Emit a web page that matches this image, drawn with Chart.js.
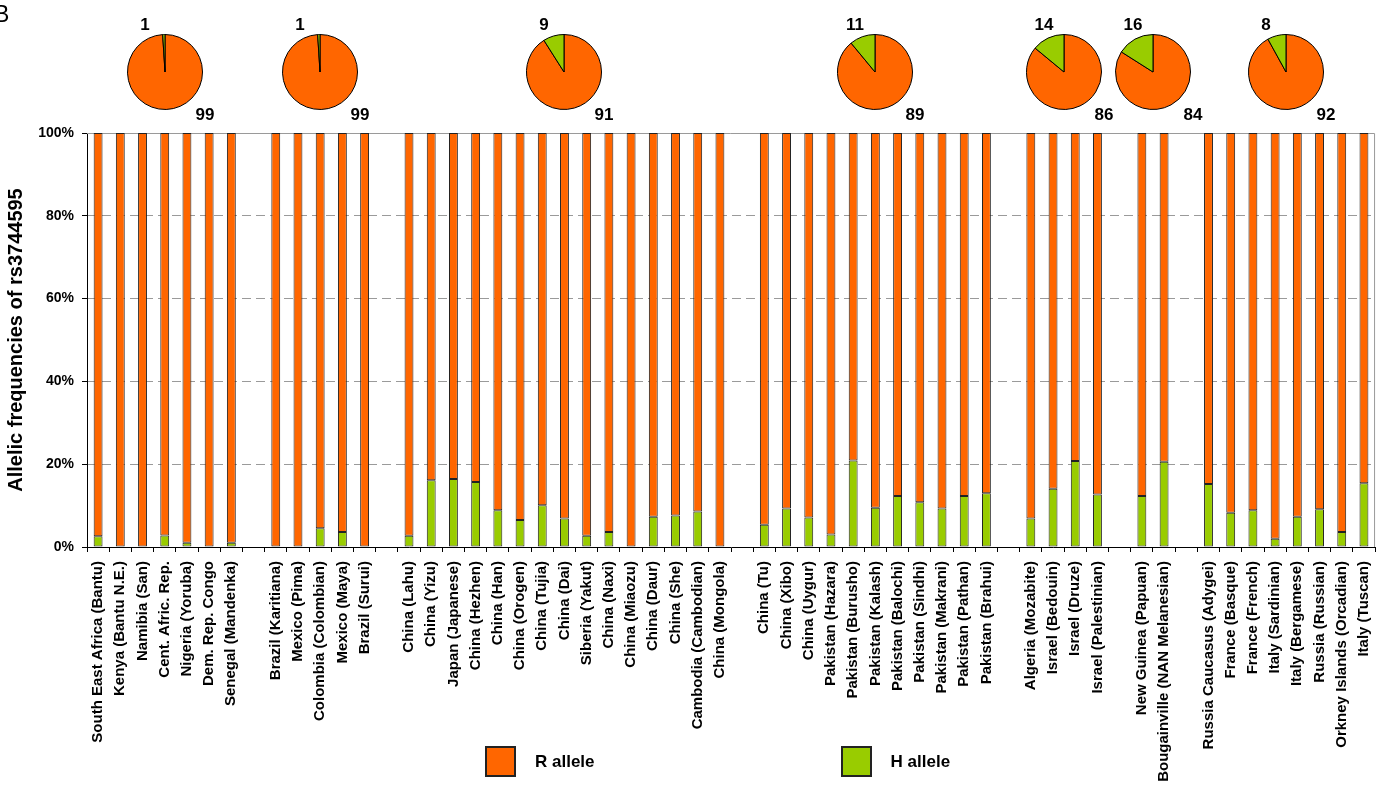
<!DOCTYPE html>
<html>
<head>
<meta charset="utf-8">
<script src="https://cdn.jsdelivr.net/npm/chart.js@4.4.1/dist/chart.umd.min.js"></script>
<style>
  html, body { margin: 0; padding: 0; background: #fff; }
  #wrap { position: relative; width: 1391px; height: 785px; overflow: hidden;
          font-family: "Liberation Sans", Arial, sans-serif; color: #000; }
  #main { position: absolute; left: 0; top: 0; }
  .pie { position: absolute; }
  #panel { position: absolute; left: -6px; top: 1px; font-size: 23px; }
  #legend { position: absolute; left: 485px; top: 746px; display: flex; align-items: center;
            font-weight: bold; font-size: 17px; }
  .item { display: flex; align-items: center; }
  .box { width: 27px; height: 27px; border: 2px solid #222; margin-right: 19px; }
  .item + .item { margin-left: 246px; }
</style>
</head>
<body>
<div id="wrap">
  <canvas id="main" width="1391" height="785"></canvas>
  <div id="panel">B</div>
  <div id="legend"></div>
</div>
<script>
// Populations; an empty label separates the geographic groups.
const populations = [
  'South East Africa (Bantu)', 'Kenya (Bantu N.E.)', 'Namibia (San)', 'Cent. Afric. Rep.',
  'Nigeria (Yoruba)', 'Dem. Rep. Congo', 'Senegal (Mandenka)',
  '',
  'Brazil (Karitiana)', 'Mexico (Pima)', 'Colombia (Colombian)', 'Mexico (Maya)', 'Brazil (Surui)',
  '',
  'China (Lahu)', 'China (Yizu)', 'Japan (Japanese)', 'China (Hezhen)', 'China (Han)',
  'China (Orogen)', 'China (Tujia)', 'China (Dai)', 'Siberia (Yakut)', 'China (Naxi)',
  'China (Miaozu)', 'China (Daur)', 'China (She)', 'Cambodia (Cambodian)', 'China (Mongola)',
  '',
  'China (Tu)', 'China (Xibo)', 'China (Uygur)', 'Pakistan (Hazara)', 'Pakistan (Burusho)',
  'Pakistan (Kalash)', 'Pakistan (Balochi)', 'Pakistan (Sindhi)', 'Pakistan (Makrani)',
  'Pakistan (Pathan)', 'Pakistan (Brahui)',
  '',
  'Algeria (Mozabite)', 'Israel (Bedouin)', 'Israel (Druze)', 'Israel (Palestinian)',
  '',
  'New Guinea (Papuan)', 'Bougainville (NAN Melanesian)',
  '',
  'Russia Caucasus (Adygei)', 'France (Basque)', 'France (French)', 'Italy (Sardinian)',
  'Italy (Bergamese)', 'Russia (Russian)', 'Orkney Islands (Orcadian)', 'Italy (Tuscan)'
];

// H allele frequency (%) per population
const hAllele = [
  2.6, 0, 0, 2.8, 1.0, 0, 1.0,
  null,
  0, 0, 4.5, 3.6, 0,
  null,
  2.7, 16.1, 16.4, 15.7, 8.9, 6.5, 10.1, 6.9, 2.7, 3.6, 0, 7.3, 7.6, 8.6, 0,
  null,
  5.4, 9.3, 7.1, 3.0, 20.9, 9.5, 12.3, 10.8, 9.3, 12.3, 13.0,
  null,
  6.9, 14.1, 20.8, 12.7,
  null,
  12.3, 20.6,
  null,
  15.2, 8.3, 8.9, 2.0, 7.3, 9.1, 3.6, 15.4
];

// R allele frequency (%) per population
const rAllele = [
  97.4, 100, 100, 97.2, 99.0, 100, 99.0,
  null,
  100, 100, 95.5, 96.4, 100,
  null,
  97.3, 83.9, 83.6, 84.3, 91.1, 93.5, 89.9, 93.1, 97.3, 96.4, 100, 92.7, 92.4, 91.4, 100,
  null,
  94.6, 90.7, 92.9, 97.0, 79.1, 90.5, 87.7, 89.2, 90.7, 87.7, 87.0,
  null,
  93.1, 85.9, 79.2, 87.3,
  null,
  87.7, 79.4,
  null,
  84.8, 91.7, 91.1, 98.0, 92.7, 90.9, 96.4, 84.6
];

// Group totals shown in the pies (H / R, %)
const groupH = [1, 1, 9, 11, 14, 16, 8];
const groupR = [99, 99, 91, 89, 86, 84, 92];

const yTicks = [0, 20, 40, 60, 80, 100];

const ORANGE = '#FF6600';
const GREEN = '#99CC00';
const FONT = '"Liberation Sans", Arial, sans-serif';

Chart.defaults.font.family = FONT;
Chart.defaults.color = '#000';

// Light grey frame along the top and right of the plot area
const plotFrame = {
  id: 'plotFrame',
  beforeDatasetsDraw(chart) {
    const { ctx, chartArea: a } = chart;
    ctx.save();
    ctx.strokeStyle = '#9a9a9a';
    ctx.lineWidth = 1;
    ctx.setLineDash([]);
    ctx.beginPath();
    ctx.moveTo(a.left, a.top + 0.5);
    ctx.lineTo(a.right - 0.5, a.top + 0.5);
    ctx.lineTo(a.right - 0.5, a.bottom);
    ctx.stroke();
    ctx.restore();
  }
};

const main = new Chart(document.getElementById('main'), {
  type: 'bar',
  data: {
    labels: populations,
    datasets: [
      { label: 'H allele', data: hAllele, backgroundColor: GREEN, borderColor: '#222',
        borderWidth: 1, borderSkipped: false },
      { label: 'R allele', data: rAllele, backgroundColor: ORANGE, borderColor: '#222',
        borderWidth: 1, borderSkipped: false }
    ]
  },
  options: {
    responsive: false,
    animation: false,
    layout: { padding: { top: 133, right: 5, left: 0, bottom: 0 } },
    datasets: { bar: { categoryPercentage: 1.0, barPercentage: 0.4 } },
    plugins: { legend: { display: false }, tooltip: { enabled: false } },
    scales: {
      x: {
        stacked: true,
        afterFit: (s) => { s.height = 238; },
        border: { display: true, color: '#000', width: 1 },
        grid: { offset: true, drawOnChartArea: false, drawTicks: true, tickLength: 5,
                tickColor: '#000', color: '#000' },
        ticks: { autoSkip: false, maxRotation: 90, minRotation: 90, padding: 9,
                 font: { size: 15, weight: 'bold' } }
      },
      y: {
        stacked: true,
        min: 0, max: 100,
        afterFit: (s) => { s.width = 87; },
        afterBuildTicks: (s) => { s.ticks = yTicks.map(v => ({ value: v })); },
        border: { display: true, color: '#000', width: 1, dash: [9, 5] },
        grid: {
          color: (c) => (c.tick && (c.tick.value === 0 || c.tick.value === 100)) ? 'rgba(0,0,0,0)' : '#9a9a9a',
          tickColor: '#000', tickLength: 5, tickBorderDash: []
        },
        ticks: { padding: 8, callback: (v) => v + '%', font: { size: 14, weight: 'bold' } },
        title: { display: true, text: 'Allelic frequencies of rs3744595',
                 font: { size: 20, weight: 'bold' }, padding: { top: 4, bottom: 0 } }
      }
    }
  },
  plugins: [plotFrame]
});

// Pie value labels: H share above-left, R share below-right
const pieLabels = {
  id: 'pieLabels',
  afterDraw(chart) {
    const arc = chart.getDatasetMeta(0).data[0];
    const [r, h] = chart.data.datasets[0].data;
    const ctx = chart.ctx;
    ctx.save();
    ctx.font = 'bold 17px ' + FONT;
    ctx.fillStyle = '#000';
    ctx.textAlign = 'center';
    ctx.textBaseline = 'middle';
    ctx.fillText(String(h), arc.x - 20, arc.y - 47);
    ctx.fillText(String(r), arc.x + 40, arc.y + 43);
    ctx.restore();
  }
};

// Locate each group (runs of labels between empty separators)
const groups = [];
let start = null;
populations.forEach((p, i) => {
  if (p !== '' && start === null) start = i;
  if ((p === '' || i === populations.length - 1) && start !== null) {
    groups.push([start, p === '' ? i - 1 : i]);
    start = null;
  }
});

const xs = main.scales.x;
const wrap = document.getElementById('wrap');
groups.forEach(([a, b], g) => {
  const cx = (xs.getPixelForValue(a) + xs.getPixelForValue(b)) / 2;
  const cv = document.createElement('canvas');
  cv.className = 'pie';
  cv.width = 140; cv.height = 120;
  cv.style.left = (cx - 70) + 'px';
  cv.style.top = '12px';
  wrap.appendChild(cv);
  new Chart(cv, {
    type: 'pie',
    data: {
      labels: ['R allele', 'H allele'],
      datasets: [{ data: [groupR[g], groupH[g]], backgroundColor: [ORANGE, GREEN],
                   borderColor: '#000', borderWidth: 1 }]
    },
    options: {
      responsive: false, animation: false,
      layout: { padding: { left: 32, right: 32, top: 22, bottom: 22 } },
      plugins: { legend: { display: false }, tooltip: { enabled: false } }
    },
    plugins: [pieLabels]
  });
});

// Legend below the plot
const legend = document.getElementById('legend');
[['R allele', ORANGE], ['H allele', GREEN]].forEach(([t, c]) => {
  const it = document.createElement('div');
  it.className = 'item';
  const bx = document.createElement('div');
  bx.className = 'box';
  bx.style.background = c;
  const tx = document.createElement('span');
  tx.textContent = t;
  it.appendChild(bx); it.appendChild(tx);
  legend.appendChild(it);
});
</script>
</body>
</html>
